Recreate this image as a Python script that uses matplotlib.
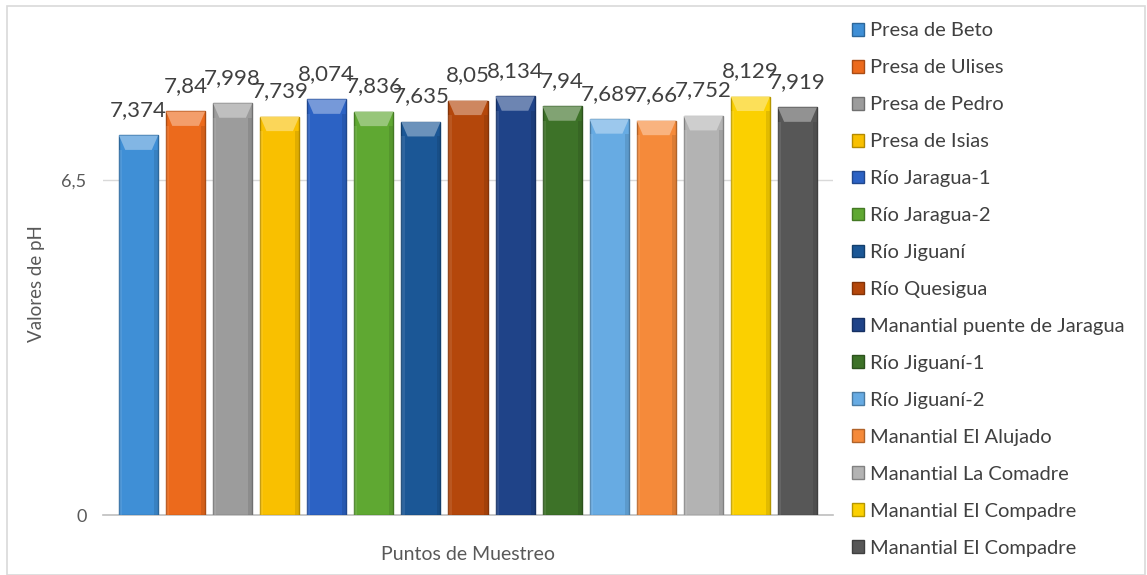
import numpy as np
import matplotlib.pyplot as plt
import matplotlib.colors as mcolors
from matplotlib.patches import Polygon, Rectangle

plt.rcParams['font.family'] = ['Lato', 'DejaVu Sans']

# puntos de muestreo y pH medido
puntos = ['Presa de Beto', 'Presa de Ulises', 'Presa de Pedro', 'Presa de Isias',
          'Río Jaragua-1', 'Río Jaragua-2', 'Río Jiguaní', 'Río Quesigua',
          'Manantial puente de Jaragua', 'Río Jiguaní-1', 'Río Jiguaní-2',
          'Manantial El Alujado', 'Manantial La Comadre', 'Manantial El Compadre',
          'Manantial El Compadre']
ph = [7.374, 7.84, 7.998, 7.739, 8.074, 7.836, 7.635, 8.05, 8.134, 7.94,
      7.689, 7.66, 7.752, 8.129, 7.919]
colores = ['#3f8fd6', '#ec6a1c', '#9c9c9c', '#f9c000', '#2c62c4', '#5fa832',
           '#1b5796', '#b4470b', '#1f4388', '#3d7228', '#67abe3', '#f58a3a',
           '#b3b3b3', '#fbd000', '#575757']
yticks = [0, 6.5]
ytick_labels = ['0', '6,5']

fig = plt.figure(figsize=(11.47, 5.75), dpi=100)
# marco gris del grafico
fig.patches.append(Rectangle((0.006, 0.0), 0.992, 0.99, transform=fig.transFigure,
                             fill=False, edgecolor='#d9d9d9', lw=1.2))
ax = fig.add_axes([0.09, 0.104, 0.636, 0.806])

ancho = 0.83
x = np.arange(len(ph))
handles = []
for i, (v, c) in enumerate(zip(ph, colores)):
    base = np.array(mcolors.to_rgb(c))
    oscuro = base * 0.72
    claro = np.clip(base + (1 - base) * 0.35, 0, 1)
    b = ax.bar(x[i], v, width=ancho, color=c, edgecolor=oscuro, lw=1.0,
               label=puntos[i], zorder=3)
    handles.append(b)
    # bisel superior
    x0, x1 = x[i] - ancho / 2, x[i] + ancho / 2
    cap = 0.28
    dx = ancho * 0.16
    ax.add_patch(Polygon([[x0, v], [x1, v], [x1 - dx, v - cap], [x0 + dx, v - cap]],
                         closed=True, facecolor=claro, edgecolor='none', zorder=4))
    # sombra lateral
    ax.add_patch(Rectangle((x1 - ancho * 0.1, 0), ancho * 0.1, v - cap,
                           facecolor=oscuro, alpha=0.35, edgecolor='none', zorder=4))
    ax.add_patch(Rectangle((x0, 0), ancho * 0.08, v - cap,
                           facecolor=claro, alpha=0.25, edgecolor='none', zorder=4))
    ax.text(x[i], v + 0.3, f'{v:g}'.replace('.', ','), ha='center', va='bottom',
            fontsize=16, color='#404040', zorder=5)

ax.set_xlim(-0.75, len(ph) - 0.25)
ax.set_ylim(0, 9)
ax.set_yticks(yticks)
ax.set_yticklabels(ytick_labels, fontsize=13, color='#595959')
ax.set_xticks([])
ax.yaxis.grid(True, color='#d9d9d9', lw=1.0, zorder=0)
ax.tick_params(axis='y', length=0, pad=12)
for s in ['top', 'right', 'left']:
    ax.spines[s].set_visible(False)
ax.spines['bottom'].set_color('#bfbfbf')
ax.spines['bottom'].set_linewidth(1.2)

ax.set_ylabel('Valores de pH', fontsize=13.5, color='#595959', labelpad=12)
ax.set_xlabel('Puntos de Muestreo', fontsize=14, color='#595959', labelpad=22)

leg = fig.legend(handles=handles, labels=puntos, loc='upper left',
                 bbox_to_anchor=(0.736, 0.975), frameon=False, fontsize=14.5,
                 handlelength=0.6, handleheight=0.6, handletextpad=0.3,
                 labelspacing=0.99, borderaxespad=0)
for t in leg.get_texts():
    t.set_color('#404040')

fig.savefig('out.png', dpi=100)
